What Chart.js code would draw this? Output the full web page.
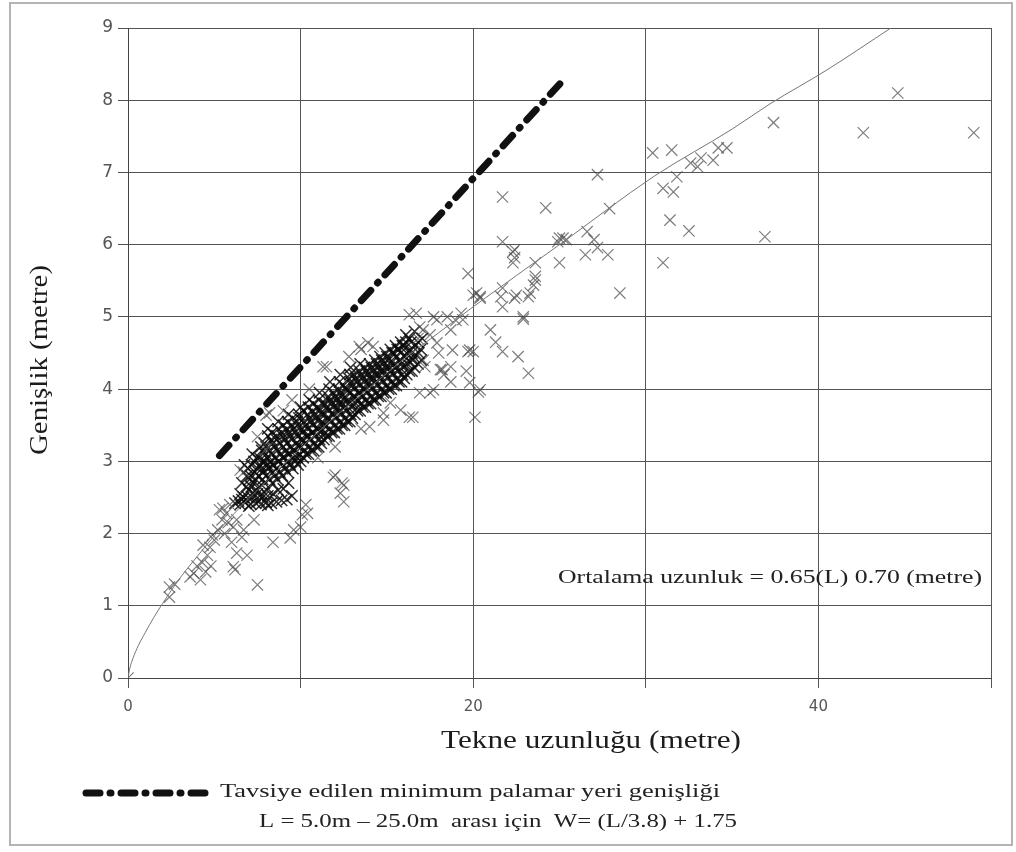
<!DOCTYPE html>
<html lang="tr">
<head>
  <meta charset="utf-8">
  <title>Genişlik / Tekne uzunluğu</title>
  <script src="https://cdn.jsdelivr.net/npm/chart.js@4.4.1/dist/chart.umd.min.js"></script>
  <style>
    html, body { margin: 0; padding: 0; background: #fff; }
    #wrap { position: relative; width: 1016px; height: 852px; }
  </style>
</head>
<body>
<div id="wrap"><canvas id="boats" width="1016" height="852"></canvas></div>

<script>
  // tekne uzunluğu (m), genişlik (m)
  var smallBoats = [
    [0,0],[2.4,1.26],[2.4,1.12],[2.7,1.3],[3.6,1.4],[3.8,1.45],[4.0,1.55],[4.2,1.36],
    [4.5,1.47],[4.3,1.6],[4.6,1.7],[4.8,1.55],[4.75,1.81],[4.35,1.84],[5.0,1.91],[4.9,1.98],
    [5.2,2.05],[5.45,2.19],[5.7,2.28],[5.3,2.33],[5.9,2.4],[5.5,2.35],[5.8,2.15],[5.6,2.0],
    [6.3,2.19],[6.1,2.09],[6.3,1.73],[6.9,1.7],[6.1,1.54],[6.2,1.5],[6.6,1.95],[6.0,1.88],
    [6.7,2.05],[7.3,2.19],[7.5,1.29],[8.4,1.88],[9.4,1.94],[9.6,2.05],[10.0,2.09],[10.1,2.26],
    [10.3,2.4],[10.4,2.28]
  ];
  // the flat row of boats at 2.4 m
  var rowBoats = [
    [6.2,2.42],[6.5,2.4],[6.6,2.47],[6.8,2.43],[7.0,2.38],[7.1,2.41],[7.4,2.42],[7.6,2.45],
    [7.7,2.4],[8.0,2.43],[8.1,2.39],[8.3,2.42],[8.6,2.44],[8.9,2.46],[9.2,2.47],[9.5,2.52],
    [7.2,2.5],[7.5,2.55],[7.8,2.5],[8.1,2.52],[8.4,2.55],[8.7,2.6],[9.0,2.62],[9.3,2.7]
  ];
  var denseLow = [
    [6.5,2.55],[6.6,2.7],[6.7,2.5],[6.85,2.65],[6.9,2.8],[6.75,2.95],[7.0,2.6],[7.05,2.75],[6.95,2.9],
    [7.3,2.55],[7.25,2.7],[7.35,2.85],[7.3,3.0],[7.2,3.1],[7.6,2.65],[7.55,2.8],[7.65,2.95],[7.6,3.05],[7.7,3.2],
    [7.9,2.7],[7.85,2.85],[7.95,3.0],[8.0,3.1],[7.9,3.25],[8.2,2.75],[8.15,2.9],[8.25,3.0],[8.2,3.15],[8.3,3.3],[8.1,3.45],
    [8.5,2.8],[8.45,2.95],[8.55,3.05],[8.5,3.2],[8.6,3.35],[8.8,2.85],[8.75,3.0],[8.85,3.1],[8.8,3.25],[8.9,3.4],[8.7,3.55],
    [9.1,2.9],[9.05,3.05],[9.15,3.15],[9.1,3.3],[9.2,3.45],[9.4,2.95],[9.35,3.1],[9.45,3.2],[9.4,3.35],[9.5,3.5],[9.3,3.65],
    [9.7,3.0],[9.65,3.15],[9.75,3.25],[9.7,3.4],[9.8,3.55],[10.0,3.0],[9.95,3.1],[10.05,3.2],[10.0,3.3],[10.1,3.45],[9.9,3.6],[10.0,3.75],
    [10.3,3.1],[10.25,3.25],[10.35,3.35],[10.3,3.5],[10.4,3.65],[10.6,3.15],[10.55,3.3],[10.65,3.4],[10.6,3.55],[10.7,3.7],[10.5,3.85],
    [10.9,3.2],[10.85,3.35],[10.95,3.45],[10.9,3.6],[11.0,3.75],[11.2,3.25],[11.15,3.4],[11.25,3.55],[11.2,3.65],[11.3,3.8],[11.1,3.95],
    [11.5,3.35],[11.45,3.5],[11.55,3.6],[11.5,3.75],[11.6,3.9],[11.8,3.4],[11.75,3.55],[11.85,3.65],[11.8,3.8],[11.9,3.95],[11.7,4.1]
  ];
  var denseHigh = [
    [12.1,3.45],[12.05,3.6],[12.15,3.75],[12.1,3.85],[12.2,4.0],[12.4,3.5],[12.35,3.65],[12.45,3.8],[12.4,3.9],[12.5,4.05],[12.3,4.2],
    [12.7,3.55],[12.65,3.7],[12.75,3.85],[12.7,4.0],[12.8,4.15],[13.0,3.6],[12.95,3.75],[13.05,3.9],[13.0,4.05],[13.1,4.2],[12.9,4.3],
    [13.3,3.7],[13.25,3.85],[13.35,3.95],[13.3,4.1],[13.4,4.25],[13.6,3.75],[13.55,3.9],[13.65,4.0],[13.6,4.15],[13.7,4.3],
    [13.9,3.8],[13.85,3.95],[13.95,4.1],[13.9,4.2],[14.0,4.35],[14.2,3.85],[14.15,4.0],[14.25,4.15],[14.2,4.25],[14.3,4.4],
    [14.5,3.9],[14.45,4.05],[14.55,4.2],[14.5,4.3],[14.6,4.45],[14.8,3.95],[14.75,4.1],[14.85,4.25],[14.8,4.35],[14.9,4.5],
    [15.1,4.0],[15.05,4.15],[15.15,4.3],[15.1,4.4],[15.2,4.55],[15.4,4.05],[15.35,4.2],[15.45,4.35],[15.4,4.5],[15.5,4.6],
    [15.7,4.1],[15.65,4.25],[15.75,4.4],[15.7,4.55],[15.8,4.65],[16.0,4.15],[15.95,4.3],[16.05,4.45],[16.0,4.6],[16.1,4.75],
    [16.3,4.25],[16.25,4.4],[16.35,4.55],[16.3,4.7],[16.6,4.3],[16.55,4.45],[16.65,4.6],[16.6,4.8],[17.0,4.4],[16.95,4.55],[17.05,4.7]
  ];
  // boats between the rows above, the black core of the cloud
  var denseFill = [
    [6.4,2.45],[6.95,2.5],[7.15,2.65],[7.1,2.8],[7.15,2.95],[7.45,2.6],[7.4,2.75],[7.5,2.9],[7.45,3.05],
    [7.75,2.55],[7.8,2.75],[7.75,2.9],[7.8,3.0],[7.75,3.15],[8.05,2.6],[8.0,2.8],[8.1,2.95],[8.05,3.05],[8.0,3.2],[8.1,3.35],
    [8.35,2.7],[8.4,2.85],[8.35,2.95],[8.3,3.1],[8.4,3.25],[8.35,3.4],[8.65,2.75],[8.6,2.9],[8.7,3.0],[8.65,3.15],[8.6,3.3],[8.7,3.45],
    [8.95,2.8],[9.0,2.95],[8.95,3.05],[9.0,3.2],[8.95,3.35],[9.0,3.5],[9.25,2.85],[9.3,3.0],[9.25,3.1],[9.2,3.25],[9.3,3.4],[9.25,3.55],
    [9.55,2.9],[9.6,3.05],[9.55,3.15],[9.5,3.3],[9.6,3.45],[9.55,3.6],[9.85,2.95],[9.8,3.05],[9.9,3.2],[9.85,3.35],[9.8,3.5],[9.9,3.65],
    [10.15,3.05],[10.2,3.15],[10.15,3.3],[10.1,3.4],[10.2,3.55],[10.15,3.7],[10.45,3.1],[10.5,3.2],[10.45,3.35],[10.4,3.45],[10.5,3.6],[10.45,3.75],
    [10.75,3.15],[10.8,3.25],[10.75,3.4],[10.7,3.5],[10.8,3.65],[10.75,3.8],[11.05,3.2],[11.1,3.3],[11.05,3.45],[11.0,3.55],[11.1,3.7],[11.05,3.85],
    [11.35,3.3],[11.4,3.4],[11.35,3.5],[11.3,3.65],[11.4,3.8],[11.65,3.35],[11.7,3.45],[11.65,3.6],[11.6,3.7],[11.7,3.85],[11.65,4.0],
    [11.95,3.4],[12.0,3.5],[11.95,3.65],[11.9,3.75],[12.0,3.9],[12.25,3.45],[12.3,3.55],[12.25,3.7],[12.2,3.8],[12.3,3.95],[12.25,4.1],
    [12.55,3.5],[12.6,3.6],[12.55,3.75],[12.5,3.85],[12.6,4.0],[12.85,3.55],[12.9,3.65],[12.85,3.8],[12.8,3.95],[12.9,4.1],[12.85,4.2],
    [13.15,3.65],[13.2,3.8],[13.15,3.9],[13.1,4.0],[13.2,4.15],[13.45,3.7],[13.5,3.8],[13.45,3.95],[13.4,4.05],[13.5,4.2],[13.45,4.35],
    [13.75,3.75],[13.8,3.85],[13.75,4.0],[13.7,4.1],[13.8,4.25],[14.05,3.8],[14.1,3.9],[14.05,4.05],[14.0,4.15],[14.1,4.3],
    [14.35,3.85],[14.4,3.95],[14.35,4.1],[14.3,4.2],[14.4,4.35],[14.65,3.9],[14.7,4.0],[14.65,4.15],[14.6,4.25],[14.7,4.4],
    [14.95,3.95],[15.0,4.05],[14.95,4.2],[14.9,4.3],[15.0,4.45],[15.25,4.0],[15.3,4.1],[15.25,4.25],[15.2,4.35],[15.3,4.5],
    [15.55,4.05],[15.6,4.15],[15.55,4.3],[15.5,4.45],[15.6,4.55],[15.85,4.1],[15.9,4.2],[15.85,4.35],[15.8,4.5],[15.9,4.6],
    [16.15,4.2],[16.2,4.35],[16.15,4.5],[16.1,4.65],[16.45,4.25],[16.5,4.4],[16.45,4.5],[16.4,4.65],[16.8,4.35],[16.85,4.5],[16.8,4.65]
  ];
  var fringeBoats = [
    [6.5,2.88],[6.7,2.85],[7.5,3.34],[8.0,3.16],[8.1,3.19],[8.2,3.67],[8.0,3.64],[9.0,3.7],[9.5,3.85],[10.5,4.0],
    [11.5,4.31],[11.3,4.31],[12.8,4.45],[13.4,4.59],[13.5,4.55],[13.9,4.64],[14.2,4.59],[11.0,3.05],[12.0,3.2],[13.5,3.45],
    [11.9,2.78],[12.0,2.81],[12.5,2.67],[12.4,2.7],[12.3,2.56],[12.5,2.44],[14.0,3.48],[14.8,3.57],[14.8,3.67],[15.2,3.81],
    [15.8,3.71],[16.3,3.61],[16.5,3.61]
  ];
  var midBoats = [
    [16.3,5.03],[16.7,5.05],[16.9,4.86],[17.7,5.0],[17.9,4.96],[18.5,5.0],[19.0,4.95],[19.3,5.05],[19.4,4.96],[18.7,4.82],
    [17.1,4.82],[16.8,4.7],[17.5,4.75],[17.9,4.64],[18.0,4.5],[18.8,4.54],[19.7,4.52],[19.8,4.54],[17.1,4.4],[17.2,4.31],
    [18.1,4.27],[18.2,4.27],[18.3,4.2],[18.7,4.31],[19.6,4.25],[16.9,3.95],[17.5,3.95],[17.7,3.99],[18.7,4.1],[19.8,4.09],
    [20.4,3.99],[20.3,3.96],[20.1,3.61],[20.0,4.52],[19.7,5.6],[20.0,5.3],[20.2,5.33],[20.4,5.28],[20.4,5.26],[21.6,5.28],
    [21.7,5.14],[21.7,5.4],[22.4,5.26],[22.5,5.3],[23.2,5.28],[23.3,5.33],[23.5,5.44],[23.6,5.51],[23.6,5.56],[22.9,5.0],
    [22.9,4.97],[21.0,4.82],[21.3,4.65],[21.7,4.52],[22.6,4.45],[23.2,4.22],[22.3,5.75],[23.6,5.75],[22.4,5.82],[22.3,5.9],
    [22.4,5.93],[21.7,6.04],[21.7,6.66],[24.2,6.51],[25.0,5.75],[24.9,6.04],[25.0,6.09],[25.2,6.09],[25.4,6.07],[26.6,6.18],
    [27.0,6.07],[27.2,5.96],[26.5,5.86],[27.8,5.86],[28.5,5.33],[27.9,6.5],[27.2,6.97]
  ];
  var bigBoats = [
    [30.4,7.27],[31.5,7.31],[31.0,5.75],[31.4,6.34],[32.5,6.19],[31.6,6.73],[31.0,6.78],[31.8,6.94],[32.6,7.13],
    [33.0,7.08],[33.2,7.2],[33.9,7.17],[34.2,7.34],[34.7,7.34],[37.4,7.69],[36.9,6.11],[42.6,7.55],[44.6,8.1],[49.0,7.55]
  ];
  // ortalama genişlik eğrisi, 0.65 L^0.70
  var meanCurve = [
    [0,0],[0.1,0.13],[0.3,0.28],[0.6,0.45],[1,0.63],[1.5,0.84],[2,1.03],[3,1.38],[4,1.68],[5,1.97],
    [6,2.24],[8,2.72],[10,3.18],[12,3.62],[14,4.02],[16,4.42],[18,4.78],[20,5.14],[25,6.0],
    [30.5,6.95],[35,7.6],[37.2,7.95],[40.5,8.42],[44.2,9.0]
  ];
  // tavsiye edilen minimum palamar yeri genişliği, L = 5 m .. 25 m
  var berthLine = [[5.3,3.08],[25.3,8.3]];

  var xTicks = [0, 20, 40];

  function toXY(list) {
    return list.map(function (p) { return { x: p[0], y: p[1] }; });
  }

  var looseBoats = [].concat(smallBoats, fringeBoats, midBoats, bigBoats);
  var packedBoats = [].concat(rowBoats, denseLow, denseFill, denseHigh);

  var dashDot = [14, 10, 1, 10];

  // stretch a text to the width it has on the scan
  function wideText(ctx, text, x, y, w, font, color) {
    ctx.save();
    ctx.font = font;
    ctx.fillStyle = color;
    ctx.textAlign = 'left';
    ctx.textBaseline = 'middle';
    var m = ctx.measureText(text).width;
    ctx.translate(x, y);
    ctx.scale(w / m, 1);
    ctx.fillText(text, 0, 0);
    ctx.restore();
  }

  var notes = {
    id: 'notes',
    beforeDraw: function (chart) {
      var ctx = chart.ctx;
      ctx.save();
      ctx.fillStyle = '#fff';
      ctx.fillRect(0, 0, chart.width, chart.height);
      ctx.restore();
    },
    afterDraw: function (chart) {
      var ctx = chart.ctx;
      // outer frame of the scan
      ctx.save();
      ctx.strokeStyle = '#b4b4b4';
      ctx.lineWidth = 2;
      ctx.strokeRect(10, 3, 1002, 842);
      ctx.restore();

      // y title, rotated
      ctx.save();
      ctx.translate(40, 455);
      ctx.rotate(-Math.PI / 2);
      wideText(ctx, 'Genişlik (metre)', 0, 0, 190, '26px "Liberation Serif"', '#1c1c1c');
      ctx.restore();

      wideText(ctx, 'Tekne uzunluğu (metre)', 441, 741, 300, '26px "Liberation Serif"', '#1c1c1c');
      wideText(ctx, 'Ortalama uzunluk = 0.65(L) 0.70 (metre)', 558, 578, 424, '19px "Liberation Serif"', '#222');

      // legend
      ctx.save();
      ctx.strokeStyle = '#111';
      ctx.lineWidth = 7;
      ctx.lineCap = 'round';
      ctx.setLineDash(dashDot);
      ctx.beginPath();
      ctx.moveTo(86, 793);
      ctx.lineTo(210, 793);
      ctx.stroke();
      ctx.restore();
      wideText(ctx, 'Tavsiye edilen minimum palamar yeri genişliği', 220, 792, 500, '19px "Liberation Serif"', '#222');
      wideText(ctx, 'L = 5.0m \u2013 25.0m  arası için  W= (L/3.8) + 1.75', 259, 822, 478, '19px "Liberation Serif"', '#222');
    }
  };

  var boatChart = new Chart(document.getElementById('boats'), {
    type: 'scatter',
    data: {
      datasets: [
        {
          label: 'Tavsiye edilen minimum palamar yeri genişliği',
          data: toXY(berthLine),
          showLine: true,
          borderColor: '#111',
          borderWidth: 7,
          borderDash: dashDot,
          borderCapStyle: 'round',
          pointRadius: 0
        },
        {
          label: 'Ortalama',
          data: toXY(meanCurve),
          showLine: true,
          borderColor: '#777',
          borderWidth: 1,
          cubicInterpolationMode: 'monotone',
          pointRadius: 0
        },
        {
          label: 'Tekneler',
          data: toXY(looseBoats),
          pointStyle: 'crossRot',
          pointRadius: 8,
          borderWidth: 1.2,
          borderColor: 'rgba(70,70,70,0.7)',
          backgroundColor: 'rgba(70,70,70,0.7)'
        },
        {
          label: 'Tekneler (yoğun)',
          data: toXY(packedBoats),
          pointStyle: 'crossRot',
          pointRadius: 8,
          borderWidth: 1.5,
          borderColor: 'rgba(10,10,10,0.85)',
          backgroundColor: 'rgba(10,10,10,0.85)'
        }
      ]
    },
    options: {
      responsive: false,
      devicePixelRatio: 1,
      animation: false,
      layout: { padding: { left: 0, top: 28, right: 25, bottom: 0 } },
      plugins: {
        legend: { display: false },
        tooltip: { enabled: false }
      },
      scales: {
        x: {
          type: 'linear',
          min: 0,
          max: 50,
          afterFit: function (s) { s.height = 174; },
          ticks: {
            stepSize: 10,
            padding: 10,
            color: '#555',
            font: { family: '"DejaVu Sans"', size: 15 },
            callback: function (v) { return xTicks.indexOf(v) >= 0 ? String(v) : ''; }
          },
          grid: { color: '#555', lineWidth: 1, tickLength: 10 },
          border: { color: '#444' }
        },
        y: {
          min: 0,
          max: 9,
          afterFit: function (s) { s.width = 128; },
          ticks: {
            stepSize: 1,
            padding: 5,
            color: '#555',
            font: { family: '"DejaVu Sans"', size: 17 }
          },
          grid: { color: '#555', lineWidth: 1, tickLength: 10 },
          border: { color: '#444' }
        }
      }
    },
    plugins: [notes]
  });
</script>
</body>
</html>
